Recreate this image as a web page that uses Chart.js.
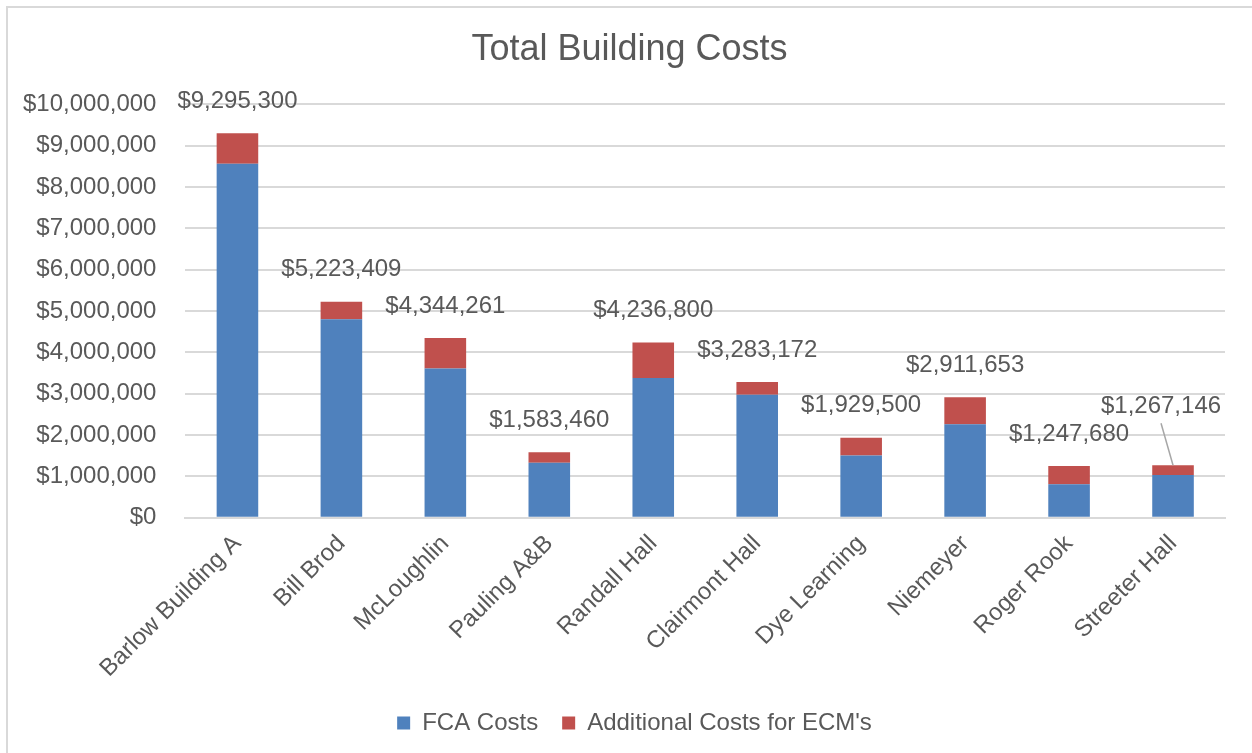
<!DOCTYPE html>
<html>
<head>
<meta charset="utf-8">
<script src="https://cdn.jsdelivr.net/npm/chart.js@4.4.1/dist/chart.umd.min.js"></script>
<style>
    html, body { margin: 0; padding: 0; background: #fff; overflow: hidden; }
    #marco {
        position: absolute; left: 6px; top: 6px; width: 1300px; height: 800px;
        border-left: 2px solid #d9d9d9; border-top: 2px solid #d9d9d9;
    }
    #contenedor { position: absolute; left: -6px; top: 0; width: 1258px; height: 753px; }
</style>
</head>
<body>
<div id="marco"></div>
<div id="contenedor"><canvas id="grafica"></canvas></div>
<script>
// Datos
const edificios = ["Barlow Building A", "Bill Brod", "McLoughlin", "Pauling A&B", "Randall Hall",
    "Clairmont Hall", "Dye Learning", "Niemeyer", "Roger Rook", "Streeter Hall"];
const costosTotales = [9295300, 5223409, 4344261, 1583460, 4236800, 3283172, 1929500, 2911653, 1247680, 1267146];
const costosFCA = [8560000, 4800000, 3610000, 1330000, 3380000, 2970000, 1500000, 2260000, 810000, 1030000];
const costosECM = costosTotales.map((t, i) => t - costosFCA[i]);
const ticksY = [0, 1000000, 2000000, 3000000, 4000000, 5000000, 6000000, 7000000, 8000000, 9000000, 10000000];

// desplazamiento manual de etiquetas (px), como en el original
const ajusteX = [0, 0, 0, 0, 0, 0, 0, 0, 0, -12];
const ajusteY = [0, 0, 0, 0, 0, 0, 0, 0, 0, -27];

const gris = "#595959";
const fuente = "'Liberation Sans', Arial, sans-serif";

function formatoDinero(v) {
    return "$" + Math.round(v).toLocaleString("en-US");
}

const etiquetasTotales = {
    id: "etiquetasTotales",
    afterDatasetsDraw(chart) {
        const ctx = chart.ctx;
        const meta = chart.getDatasetMeta(1);
        ctx.save();
        ctx.font = "24px " + fuente;
        ctx.fillStyle = gris;
        ctx.textAlign = "center";
        ctx.textBaseline = "middle";
        meta.data.forEach((barra, i) => {
            let x = barra.x + ajusteX[i];
            let y = barra.y - 32 + ajusteY[i];
            ctx.fillText(formatoDinero(costosTotales[i]), x, y);
            if (ajusteY[i] !== 0) {
                // linea guia hacia la barra
                ctx.strokeStyle = "#a6a6a6";
                ctx.lineWidth = 1.5;
                ctx.beginPath();
                ctx.moveTo(x, y + 17);
                ctx.lineTo(barra.x, barra.y);
                ctx.stroke();
            }
        });
        ctx.restore();
    }
};

// el titulo y la leyenda van centrados sobre el area del grafico, no sobre todo el lienzo
const centrarBloques = {
    id: "centrarBloques",
    afterLayout(chart) {
        if (chart.titleBlock) { chart.titleBlock.left += 20; chart.titleBlock.right += 20; }
        if (chart.legend) { chart.legend.left += 25; chart.legend.right += 25; }
    }
};

let ctx = document.getElementById("grafica").getContext("2d");
new Chart(ctx, {
    type: "bar",
    data: {
        labels: edificios,
        datasets: [
            { label: "FCA Costs", data: costosFCA, backgroundColor: "#4f81bd" },
            { label: "Additional Costs for ECM's", data: costosECM, backgroundColor: "#c0504d" }
        ]
    },
    options: {
        responsive: true,
        maintainAspectRatio: false,
        animation: false,
        layout: { padding: { left: 0, right: 27, top: 0, bottom: 8 } },
        datasets: { bar: { categoryPercentage: 1, barPercentage: 0.4 } },
        plugins: {
            title: {
                display: true,
                text: "Total Building Costs",
                color: gris,
                font: { family: fuente, size: 36, weight: "normal" },
                padding: { top: 28, bottom: 33 }
            },
            legend: {
                position: "bottom",
                labels: {
                    color: gris,
                    font: { family: fuente, size: 24 },
                    boxWidth: 13,
                    boxHeight: 13,
                    padding: 24
                }
            },
            tooltip: { enabled: false }
        },
        scales: {
            x: {
                stacked: true,
                grid: { display: false },
                border: { color: "#d9d9d9", width: 2 },
                ticks: {
                    color: gris,
                    font: { family: fuente, size: 24 },
                    minRotation: 45,
                    maxRotation: 45,
                    padding: 4
                }
            },
            y: {
                stacked: true,
                min: 0,
                max: 10000000,
                afterBuildTicks: (eje) => { eje.ticks = ticksY.map(v => ({ value: v })); },
                grid: { color: "#d9d9d9", lineWidth: 2, drawTicks: false },
                border: { display: false },
                ticks: {
                    color: gris,
                    font: { family: fuente, size: 24 },
                    padding: 29,
                    callback: (v) => formatoDinero(v)
                }
            }
        }
    },
    plugins: [etiquetasTotales, centrarBloques]
});
</script>
</body>
</html>
